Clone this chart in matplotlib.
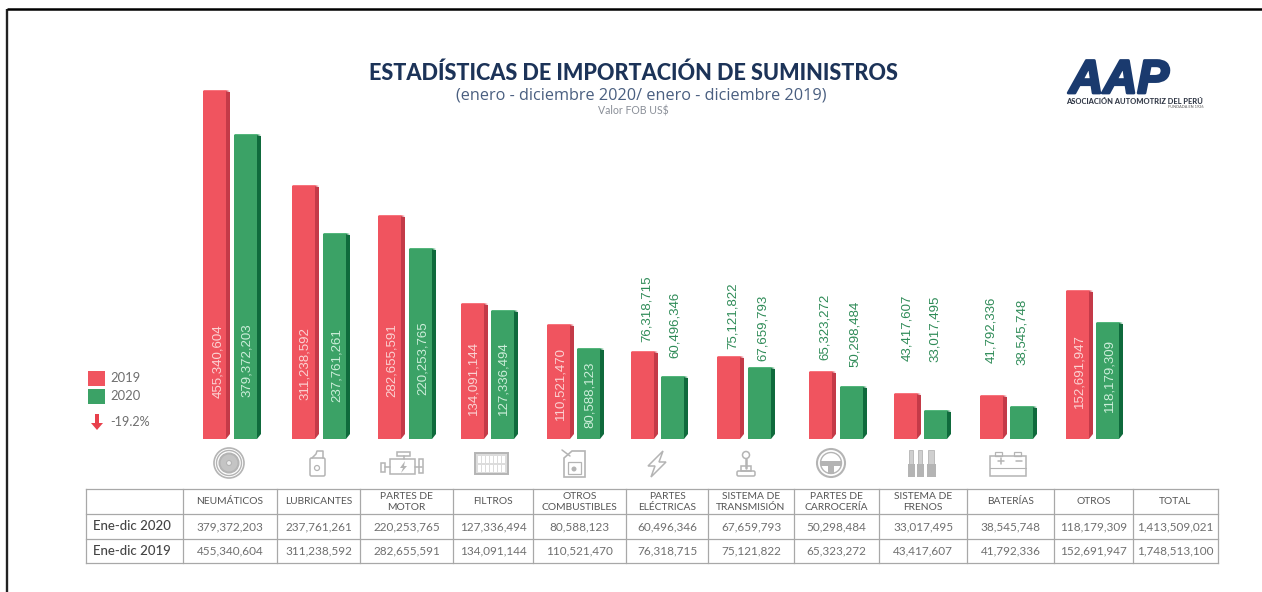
import matplotlib
matplotlib.use("Agg")
import matplotlib.pyplot as plt
import matplotlib.patheffects as pe
from matplotlib.patches import Circle, Polygon, Rectangle, FancyBboxPatch

# table values (as printed)
categories = ["NEUMÁTICOS", "LUBRICANTES", "PARTES DE\nMOTOR", "FILTROS", "OTROS\nCOMBUSTIBLES",
              "PARTES\nELÉCTRICAS", "SISTEMA DE\nTRANSMISIÓN", "PARTES DE\nCARROCERÍA",
              "SISTEMA DE\nFRENOS", "BATERÍAS", "OTROS", "TOTAL"]
values_2020 = ["379,372,203", "237,761,261", "220,253,765", "127,336,494", "80,588,123", "60,496,346",
               "67,659,793", "50,298,484", "33,017,495", "38,545,748", "118,179,309", "1,413,509,021"]
values_2019 = ["455,340,604", "311,238,592", "282,655,591", "134,091,144", "110,521,470", "76,318,715",
               "75,121,822", "65,323,272", "43,417,607", "41,792,336", "152,691,947", "1,748,513,100"]

# bar heights: the source bars are not to scale with the values
heights_2019 = [348, 253, 223, 135, 114, 87, 82, 67, 45, 43, 148]
heights_2020 = [304, 205, 190, 128, 90, 62, 71, 52, 28, 32, 116]

# layout, in pixels of the 1262x592 picture
W, H, BASE = 1262, 592, 439
x_2019 = [203, 292, 378, 461, 547, 631, 717, 809, 894, 980, 1066]
x_2020 = [234, 323, 409, 491, 577, 661, 748, 840, 924, 1010, 1096]
label_x_2019 = [218, 305, 392, 473, 560, 647, 733, 825, 907, 991, 1079]
label_x_2020 = [247, 337, 423, 503, 590, 675, 763, 855, 935, 1022, 1109]
label_bottom_2019 = [398, 400, 397, 415, 420, 342, 349, 360, 361, 363, 408]
label_bottom_2020 = [397, 402, 395, 415, 428, 358, 361, 367, 362, 365, 412]
col_x = [86, 183, 277, 360, 453, 533, 626, 708, 794, 879, 967, 1054, 1133, 1218]
row_y = [489, 514, 539, 563]

RED, RED_D, RED_T = "#f0545f", "#c43a48", "#f7747d"
GREEN, GREEN_D, GREEN_T = "#3ba266", "#0f6a3c", "#54b67c"
NAVY = "#1c3358"
GRAY = "#6f6f6f"
ICON = "#b4b4b4"
BODY = ["Lato", "Noto Sans", "DejaVu Sans"]
LABEL = ["Liberation Sans", "DejaVu Sans"]
plt.rcParams["font.family"] = BODY

fig = plt.figure(figsize=(W / 100, H / 100), dpi=100)

# page axes in image pixels, for the frame, titles, legend, icons and table
page = fig.add_axes([0, 0, 1, 1])
page.set_xlim(0, W)
page.set_ylim(H, 0)
page.axis("off")
page.set_zorder(2)
page.patch.set_alpha(0)

# bars axes: y = height above the baseline
ax = fig.add_axes([0, (H - BASE) / H, 1, BASE / H])
ax.set_xlim(0, W)
ax.set_ylim(0, BASE)
ax.axis("off")

FRONT, SIDE = 23, 4


def draw_bars(xs, hs, col, dark, top):
    ax.bar(xs, hs, width=FRONT, align="edge", color=col, linewidth=0)
    for x, h in zip(xs, hs):
        r = x + FRONT
        ax.add_patch(Polygon([(r, 0), (r + SIDE, 5), (r + SIDE, h - 1), (r, h)], fc=dark, ec="none"))
        ax.add_patch(Polygon([(x, h), (r, h), (r + SIDE, h + 1), (x + 1, h + 1)], fc=top, ec="none"))


draw_bars(x_2019, heights_2019, RED, RED_D, RED_T)
draw_bars(x_2020, heights_2020, GREEN, GREEN_D, GREEN_T)

# rotated value labels: pale inside tall bars, green above the short ones
for lx, ly, txt in zip(label_x_2019, label_bottom_2019, values_2019):
    page.text(lx, ly, txt, rotation=90, ha="center", va="bottom", family=LABEL, fontsize=9.5,
              color="#fbd3d3" if ly > 380 else "#2e8b57")
for lx, ly, txt in zip(label_x_2020, label_bottom_2020, values_2020):
    page.text(lx, ly, txt, rotation=90, ha="center", va="bottom", family=LABEL, fontsize=9.5,
              color="#cdeeda" if ly > 380 else "#2e8b57")

# frame: top and left only
page.plot([7, 7], [9, H], color="#222222", lw=1.7, solid_capstyle="butt")
page.plot([7, W], [9, 9], color="black", lw=1.8, solid_capstyle="butt")

# titles
page.text(633, 73.5, "ESTADÍSTICAS DE IMPORTACIÓN DE SUMINISTROS", ha="center", va="center",
          fontsize=15.6, fontweight="black", color=NAVY)
page.text(641, 95, "(enero - diciembre 2020/ enero - diciembre 2019)", ha="center", va="center",
          fontsize=11.7, family=["Open Sans", "DejaVu Sans"], color="#4a5f80")
page.text(633, 111, "Valor FOB US$", ha="center", va="center", fontsize=7.6, color="#8a8f98")

# logo
page.text(1119, 81, "AAP", ha="center", va="center", fontsize=34, fontweight="bold", style="italic",
          family=["Liberation Sans", "DejaVu Sans"], color="#1a3a6e",
          path_effects=[pe.withStroke(linewidth=2, foreground="#1a3a6e")])
page.text(1135, 102, "ASOCIACIÓN AUTOMOTRIZ DEL PERÚ", ha="center", va="center", fontsize=5.4,
          fontweight="black", color="#333a48")
page.text(1186, 107.5, "FUNDADA EN 1926", ha="center", va="center", fontsize=2.8, color="#555555")

# legend
page.add_patch(Rectangle((88, 371), 17, 15, fc=RED, ec="none"))
page.add_patch(Rectangle((88, 389), 17, 15, fc=GREEN, ec="none"))
page.text(110, 378, "2019", va="center", fontsize=9.4, color=GRAY)
page.text(110, 396, "2020", va="center", fontsize=9.4, color=GRAY)
page.add_patch(Polygon([(95, 414), (99, 414), (99, 423), (103, 423), (97, 430), (91, 423), (95, 423)],
                       fc="#e8404c", ec="none"))
page.text(110, 422, "-19.2%", va="center", fontsize=9.1, color=GRAY)


# icons, plain outlines
def line(xs, ys, lw=1.1):
    page.plot(xs, ys, color=ICON, lw=lw, solid_capstyle="round")


def box(x, y, w, h, lw=1.1, fc="none"):
    page.add_patch(Rectangle((x, y), w, h, fc=fc, ec=ICON, lw=lw))


# tire
for r, lw in [(15, 1.2), (12.5, 1.0)]:
    page.add_patch(Circle((229, 463), r, fc="none", ec=ICON, lw=lw))
page.add_patch(Circle((229, 463), 9.5, fc="#c4c4c4", ec=ICON, lw=1.5))
page.add_patch(Circle((229, 463), 2.5, fc="#ececec", ec=ICON, lw=0.8))
# oil bottle
page.add_patch(FancyBboxPatch((310, 458), 15, 18, boxstyle="round,pad=0,rounding_size=1.5", fc="none", ec=ICON, lw=1.1))
line([312, 316, 317, 323, 323], [458, 454, 451, 451, 458])
page.add_patch(Circle((317, 468), 2.5, fc="none", ec=ICON, lw=0.9))
# engine
box(390, 459, 25, 15)
box(397, 452, 13, 4)
line([403.5, 403.5], [456, 459])
box(381, 463, 4, 9)
line([385, 390], [467, 467])
line([415, 422], [467, 467])
box(419, 459, 4, 14)
page.add_patch(Polygon([(405, 461), (400, 468), (403, 468), (401, 473), (407, 466), (404, 466)], fc=ICON, ec="none"))
# filter
box(475, 453, 33, 21, fc="#dcdcdc", lw=1.4)
for k in range(7):
    page.add_patch(Rectangle((478 + 4 * k, 456), 2.6, 6.5, fc="white", ec="none"))
    page.add_patch(Rectangle((478 + 4 * k, 465), 2.6, 6.5, fc="white", ec="none"))
# jerrycan
page.add_patch(Polygon([(564, 458), (572, 451), (585, 451), (585, 477), (564, 477)], fc="none", ec=ICON, lw=1.2))
line([562, 570], [450, 456])
box(568, 462, 13, 12, lw=0.9)
page.add_patch(Circle((574, 469), 2.5, fc=ICON, ec="none"))
# bolt
page.add_patch(Polygon([(663, 451), (648, 466), (655, 466), (651, 477), (666, 462), (659, 462)], fc="none", ec=ICON, lw=1.1))
# joystick
page.add_patch(Circle((746, 455), 3.5, fc="none", ec=ICON, lw=1.1))
line([746, 746], [459, 468], lw=1.8)
box(741, 466, 10, 5)
page.add_patch(FancyBboxPatch((737, 471), 18, 5, boxstyle="round,pad=0,rounding_size=1.5", fc="none", ec=ICON, lw=1.1))
# steering wheel
page.add_patch(Circle((831, 463), 14, fc="none", ec=ICON, lw=1.5))
page.add_patch(Circle((831, 463), 10.5, fc="none", ec=ICON, lw=1))
page.add_patch(Rectangle((821, 461), 20, 5, fc=ICON, ec="none"))
page.add_patch(Rectangle((828, 465), 6, 9, fc=ICON, ec="none"))
# tools
for tx, w in [(911, 4), (920, 4), (931, 6)]:
    page.add_patch(Rectangle((tx - w / 2, 450), w, 14, fc="#cfcfcf", ec=ICON, lw=0.6))
    page.add_patch(Rectangle((tx - w / 2 - 1.5, 464), w + 3, 13, fc=ICON, ec="none"))
# battery
box(990, 456, 36, 20)
line([990, 1026], [468, 468], lw=0.8)
box(995, 452, 7, 4, lw=0.9)
box(1014, 452, 7, 4, lw=0.9)
line([998, 1004], [461, 461])
line([1001, 1001], [458, 464])
line([1016, 1022], [461, 461])

# table grid
for x in col_x:
    page.plot([x, x], [row_y[0], row_y[-1]], color="#a8a8a8", lw=0.9)
for y in row_y:
    page.plot([col_x[0], col_x[-1]], [y, y], color="#a8a8a8", lw=0.9)

# table text
for i, (name, v20, v19) in enumerate(zip(categories, values_2020, values_2019)):
    cx = (col_x[i + 1] + col_x[i + 2]) / 2
    page.text(cx, (row_y[0] + row_y[1]) / 2 + 0.5, name, ha="center", va="center", fontsize=7.4,
              color="#555555", linespacing=1.2)
    page.text(cx, (row_y[1] + row_y[2]) / 2, v20, ha="center", va="center", fontsize=8.5, color=GRAY)
    page.text(cx, (row_y[2] + row_y[3]) / 2, v19, ha="center", va="center", fontsize=8.5, color=GRAY)
page.text(93, (row_y[1] + row_y[2]) / 2, "Ene-dic 2020", va="center", fontsize=9.5, color="#444444", fontweight="medium")
page.text(93, (row_y[2] + row_y[3]) / 2, "Ene-dic 2019", va="center", fontsize=9.5, color="#444444", fontweight="medium")

fig.savefig("out.png", dpi=100)
